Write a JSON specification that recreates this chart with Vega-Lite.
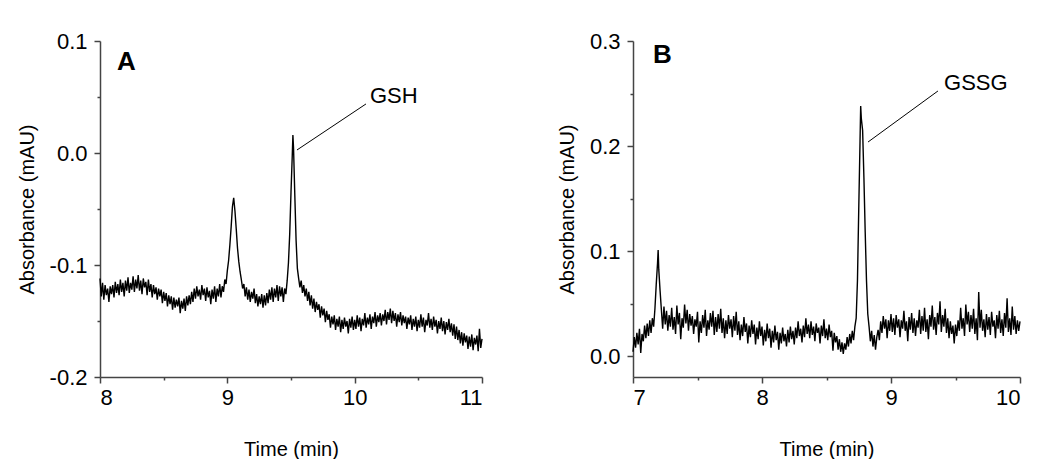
{
"$schema": "https://vega.github.io/schema/vega-lite/v6.json",
"background": "white",
"padding": {"left": 17, "top": 30, "right": 0, "bottom": 0},
"spacing": 72,
"config": {
  "view": {"stroke": null},
  "font": "Liberation Sans",
  "axis": {"grid": false, "domainColor": "#444", "domainWidth": 1.5, "tickColor": "#444", "tickWidth": 1.5,
           "labelFont": "Liberation Sans", "labelFontSize": 22, "labelColor": "black", "labelOverlap": false,
           "titleFont": "Liberation Sans", "titleFontSize": 20, "titleFontWeight": "normal", "titleColor": "black"}
},
"datasets": {
"A": [
{"t":8.00,"v":-0.112},{"t":8.01,"v":-0.128},{"t":8.02,"v":-0.116},{"t":8.03,"v":-0.131},{"t":8.04,"v":-0.118},{"t":8.05,"v":-0.127},{"t":8.06,"v":-0.121},{"t":8.07,"v":-0.133},{"t":8.08,"v":-0.119},{"t":8.09,"v":-0.126},
{"t":8.10,"v":-0.118},{"t":8.11,"v":-0.129},{"t":8.12,"v":-0.115},{"t":8.13,"v":-0.125},{"t":8.14,"v":-0.117},{"t":8.15,"v":-0.127},{"t":8.16,"v":-0.113},{"t":8.17,"v":-0.124},{"t":8.18,"v":-0.116},{"t":8.19,"v":-0.128},
{"t":8.20,"v":-0.114},{"t":8.21,"v":-0.123},{"t":8.22,"v":-0.111},{"t":8.23,"v":-0.125},{"t":8.24,"v":-0.116},{"t":8.25,"v":-0.122},{"t":8.26,"v":-0.110},{"t":8.27,"v":-0.124},{"t":8.28,"v":-0.113},{"t":8.29,"v":-0.121},
{"t":8.30,"v":-0.109},{"t":8.31,"v":-0.123},{"t":8.32,"v":-0.114},{"t":8.33,"v":-0.126},{"t":8.34,"v":-0.112},{"t":8.35,"v":-0.120},{"t":8.36,"v":-0.115},{"t":8.37,"v":-0.127},{"t":8.38,"v":-0.113},{"t":8.39,"v":-0.124},
{"t":8.40,"v":-0.117},{"t":8.41,"v":-0.129},{"t":8.42,"v":-0.118},{"t":8.43,"v":-0.126},{"t":8.44,"v":-0.120},{"t":8.45,"v":-0.131},{"t":8.46,"v":-0.121},{"t":8.47,"v":-0.128},{"t":8.48,"v":-0.122},{"t":8.49,"v":-0.134},
{"t":8.50,"v":-0.124},{"t":8.51,"v":-0.132},{"t":8.52,"v":-0.125},{"t":8.53,"v":-0.137},{"t":8.54,"v":-0.127},{"t":8.55,"v":-0.135},{"t":8.56,"v":-0.128},{"t":8.57,"v":-0.140},{"t":8.58,"v":-0.129},{"t":8.59,"v":-0.138},
{"t":8.60,"v":-0.131},{"t":8.61,"v":-0.137},{"t":8.62,"v":-0.129},{"t":8.63,"v":-0.143},{"t":8.64,"v":-0.132},{"t":8.65,"v":-0.139},{"t":8.66,"v":-0.130},{"t":8.67,"v":-0.141},{"t":8.68,"v":-0.128},{"t":8.69,"v":-0.136},
{"t":8.70,"v":-0.127},{"t":8.71,"v":-0.135},{"t":8.72,"v":-0.124},{"t":8.73,"v":-0.133},{"t":8.74,"v":-0.121},{"t":8.75,"v":-0.130},{"t":8.76,"v":-0.119},{"t":8.77,"v":-0.128},{"t":8.78,"v":-0.122},{"t":8.79,"v":-0.131},
{"t":8.80,"v":-0.118},{"t":8.81,"v":-0.127},{"t":8.82,"v":-0.121},{"t":8.83,"v":-0.132},{"t":8.84,"v":-0.120},{"t":8.85,"v":-0.129},{"t":8.86,"v":-0.123},{"t":8.87,"v":-0.135},{"t":8.88,"v":-0.122},{"t":8.89,"v":-0.130},
{"t":8.90,"v":-0.119},{"t":8.91,"v":-0.133},{"t":8.92,"v":-0.121},{"t":8.93,"v":-0.128},{"t":8.94,"v":-0.117},{"t":8.95,"v":-0.129},{"t":8.96,"v":-0.119},{"t":8.97,"v":-0.124},{"t":8.98,"v":-0.113},{"t":8.99,"v":-0.117},
{"t":9.00,"v":-0.105},{"t":9.01,"v":-0.096},{"t":9.02,"v":-0.082},{"t":9.03,"v":-0.066},{"t":9.04,"v":-0.048},{"t":9.05,"v":-0.040},{"t":9.06,"v":-0.052},{"t":9.07,"v":-0.068},{"t":9.08,"v":-0.085},{"t":9.09,"v":-0.097},
{"t":9.10,"v":-0.106},{"t":9.11,"v":-0.113},{"t":9.12,"v":-0.121},{"t":9.13,"v":-0.117},{"t":9.14,"v":-0.128},{"t":9.15,"v":-0.120},{"t":9.16,"v":-0.131},{"t":9.17,"v":-0.122},{"t":9.18,"v":-0.133},{"t":9.19,"v":-0.124},
{"t":9.20,"v":-0.130},{"t":9.21,"v":-0.121},{"t":9.22,"v":-0.134},{"t":9.23,"v":-0.126},{"t":9.24,"v":-0.137},{"t":9.25,"v":-0.128},{"t":9.26,"v":-0.135},{"t":9.27,"v":-0.126},{"t":9.28,"v":-0.138},{"t":9.29,"v":-0.127},
{"t":9.30,"v":-0.136},{"t":9.31,"v":-0.125},{"t":9.32,"v":-0.134},{"t":9.33,"v":-0.122},{"t":9.34,"v":-0.131},{"t":9.35,"v":-0.120},{"t":9.36,"v":-0.133},{"t":9.37,"v":-0.121},{"t":9.38,"v":-0.129},{"t":9.39,"v":-0.118},
{"t":9.40,"v":-0.132},{"t":9.41,"v":-0.119},{"t":9.42,"v":-0.128},{"t":9.43,"v":-0.120},{"t":9.44,"v":-0.133},{"t":9.45,"v":-0.121},{"t":9.46,"v":-0.126},{"t":9.47,"v":-0.114},{"t":9.48,"v":-0.098},{"t":9.49,"v":-0.072},
{"t":9.50,"v":-0.035},{"t":9.51,"v":-0.002},{"t":9.515,"v":0.016},{"t":9.52,"v":0.004},{"t":9.53,"v":-0.038},{"t":9.54,"v":-0.078},{"t":9.55,"v":-0.103},{"t":9.56,"v":-0.112},{"t":9.57,"v":-0.120},{"t":9.58,"v":-0.114},{"t":9.59,"v":-0.125},
{"t":9.60,"v":-0.118},{"t":9.61,"v":-0.128},{"t":9.62,"v":-0.121},{"t":9.63,"v":-0.132},{"t":9.64,"v":-0.124},{"t":9.65,"v":-0.136},{"t":9.66,"v":-0.127},{"t":9.67,"v":-0.139},{"t":9.68,"v":-0.130},{"t":9.69,"v":-0.142},
{"t":9.70,"v":-0.133},{"t":9.71,"v":-0.140},{"t":9.72,"v":-0.135},{"t":9.73,"v":-0.147},{"t":9.74,"v":-0.137},{"t":9.75,"v":-0.145},{"t":9.76,"v":-0.139},{"t":9.77,"v":-0.151},{"t":9.78,"v":-0.141},{"t":9.79,"v":-0.149},
{"t":9.80,"v":-0.144},{"t":9.81,"v":-0.156},{"t":9.82,"v":-0.146},{"t":9.83,"v":-0.153},{"t":9.84,"v":-0.145},{"t":9.85,"v":-0.158},{"t":9.86,"v":-0.148},{"t":9.87,"v":-0.155},{"t":9.88,"v":-0.146},{"t":9.89,"v":-0.160},
{"t":9.90,"v":-0.149},{"t":9.91,"v":-0.157},{"t":9.92,"v":-0.147},{"t":9.93,"v":-0.155},{"t":9.94,"v":-0.150},{"t":9.95,"v":-0.161},{"t":9.96,"v":-0.148},{"t":9.97,"v":-0.156},{"t":9.98,"v":-0.146},{"t":9.99,"v":-0.158},
{"t":10.00,"v":-0.149},{"t":10.01,"v":-0.157},{"t":10.02,"v":-0.145},{"t":10.03,"v":-0.155},{"t":10.04,"v":-0.147},{"t":10.05,"v":-0.159},{"t":10.06,"v":-0.148},{"t":10.07,"v":-0.154},{"t":10.08,"v":-0.143},{"t":10.09,"v":-0.156},
{"t":10.10,"v":-0.147},{"t":10.11,"v":-0.153},{"t":10.12,"v":-0.144},{"t":10.13,"v":-0.157},{"t":10.14,"v":-0.146},{"t":10.15,"v":-0.152},{"t":10.16,"v":-0.142},{"t":10.17,"v":-0.155},{"t":10.18,"v":-0.145},{"t":10.19,"v":-0.151},
{"t":10.20,"v":-0.143},{"t":10.21,"v":-0.154},{"t":10.22,"v":-0.144},{"t":10.23,"v":-0.150},{"t":10.24,"v":-0.140},{"t":10.25,"v":-0.153},{"t":10.26,"v":-0.142},{"t":10.27,"v":-0.149},{"t":10.28,"v":-0.139},{"t":10.29,"v":-0.152},
{"t":10.30,"v":-0.141},{"t":10.31,"v":-0.150},{"t":10.32,"v":-0.143},{"t":10.33,"v":-0.155},{"t":10.34,"v":-0.144},{"t":10.35,"v":-0.151},{"t":10.36,"v":-0.142},{"t":10.37,"v":-0.154},{"t":10.38,"v":-0.145},{"t":10.39,"v":-0.152},
{"t":10.40,"v":-0.146},{"t":10.41,"v":-0.157},{"t":10.42,"v":-0.147},{"t":10.43,"v":-0.153},{"t":10.44,"v":-0.145},{"t":10.45,"v":-0.158},{"t":10.46,"v":-0.148},{"t":10.47,"v":-0.155},{"t":10.48,"v":-0.146},{"t":10.49,"v":-0.159},
{"t":10.50,"v":-0.149},{"t":10.51,"v":-0.156},{"t":10.52,"v":-0.144},{"t":10.53,"v":-0.155},{"t":10.54,"v":-0.147},{"t":10.55,"v":-0.160},{"t":10.56,"v":-0.149},{"t":10.57,"v":-0.154},{"t":10.58,"v":-0.143},{"t":10.59,"v":-0.156},
{"t":10.60,"v":-0.148},{"t":10.61,"v":-0.158},{"t":10.62,"v":-0.146},{"t":10.63,"v":-0.155},{"t":10.64,"v":-0.149},{"t":10.65,"v":-0.161},{"t":10.66,"v":-0.150},{"t":10.67,"v":-0.157},{"t":10.68,"v":-0.147},{"t":10.69,"v":-0.159},
{"t":10.70,"v":-0.150},{"t":10.71,"v":-0.162},{"t":10.72,"v":-0.151},{"t":10.73,"v":-0.158},{"t":10.74,"v":-0.148},{"t":10.75,"v":-0.160},{"t":10.76,"v":-0.152},{"t":10.77,"v":-0.163},{"t":10.78,"v":-0.153},{"t":10.79,"v":-0.166},
{"t":10.80,"v":-0.155},{"t":10.81,"v":-0.167},{"t":10.82,"v":-0.158},{"t":10.83,"v":-0.170},{"t":10.84,"v":-0.160},{"t":10.85,"v":-0.172},{"t":10.86,"v":-0.161},{"t":10.87,"v":-0.169},{"t":10.88,"v":-0.163},{"t":10.89,"v":-0.175},
{"t":10.90,"v":-0.164},{"t":10.91,"v":-0.173},{"t":10.92,"v":-0.162},{"t":10.93,"v":-0.176},{"t":10.94,"v":-0.165},{"t":10.95,"v":-0.171},{"t":10.96,"v":-0.163},{"t":10.97,"v":-0.177},{"t":10.98,"v":-0.157},{"t":10.99,"v":-0.174},{"t":11.00,"v":-0.166}
],
"B": [
{"t":7.00,"v":0.004},{"t":7.01,"v":0.018},{"t":7.02,"v":0.008},{"t":7.03,"v":0.022},{"t":7.04,"v":0.011},{"t":7.05,"v":0.026},{"t":7.06,"v":0.003},{"t":7.07,"v":0.021},{"t":7.08,"v":0.014},{"t":7.09,"v":0.029},
{"t":7.10,"v":0.017},{"t":7.11,"v":0.031},{"t":7.12,"v":0.019},{"t":7.13,"v":0.034},{"t":7.14,"v":0.022},{"t":7.15,"v":0.036},{"t":7.16,"v":0.028},{"t":7.17,"v":0.045},{"t":7.18,"v":0.068},{"t":7.19,"v":0.088},{"t":7.195,"v":0.101},
{"t":7.20,"v":0.082},{"t":7.21,"v":0.062},{"t":7.22,"v":0.044},{"t":7.23,"v":0.026},{"t":7.24,"v":0.047},{"t":7.25,"v":0.030},{"t":7.26,"v":0.043},{"t":7.27,"v":0.024},{"t":7.28,"v":0.039},{"t":7.29,"v":0.028},
{"t":7.30,"v":0.046},{"t":7.31,"v":0.025},{"t":7.32,"v":0.037},{"t":7.33,"v":0.021},{"t":7.34,"v":0.048},{"t":7.35,"v":0.030},{"t":7.36,"v":0.041},{"t":7.37,"v":0.016},{"t":7.38,"v":0.036},{"t":7.39,"v":0.027},
{"t":7.40,"v":0.049},{"t":7.41,"v":0.031},{"t":7.42,"v":0.044},{"t":7.43,"v":0.024},{"t":7.44,"v":0.040},{"t":7.45,"v":0.029},{"t":7.46,"v":0.038},{"t":7.47,"v":0.021},{"t":7.48,"v":0.035},{"t":7.49,"v":0.028},
{"t":7.50,"v":0.042},{"t":7.51,"v":0.013},{"t":7.52,"v":0.033},{"t":7.53,"v":0.022},{"t":7.54,"v":0.039},{"t":7.55,"v":0.027},{"t":7.56,"v":0.044},{"t":7.57,"v":0.019},{"t":7.58,"v":0.034},{"t":7.59,"v":0.025},
{"t":7.60,"v":0.041},{"t":7.61,"v":0.028},{"t":7.62,"v":0.043},{"t":7.63,"v":0.020},{"t":7.64,"v":0.037},{"t":7.65,"v":0.023},{"t":7.66,"v":0.040},{"t":7.67,"v":0.026},{"t":7.68,"v":0.045},{"t":7.69,"v":0.022},
{"t":7.70,"v":0.036},{"t":7.71,"v":0.017},{"t":7.72,"v":0.034},{"t":7.73,"v":0.021},{"t":7.74,"v":0.039},{"t":7.75,"v":0.026},{"t":7.76,"v":0.035},{"t":7.77,"v":0.018},{"t":7.78,"v":0.038},{"t":7.79,"v":0.024},
{"t":7.80,"v":0.042},{"t":7.81,"v":0.020},{"t":7.82,"v":0.033},{"t":7.83,"v":0.015},{"t":7.84,"v":0.030},{"t":7.85,"v":0.019},{"t":7.86,"v":0.037},{"t":7.87,"v":0.023},{"t":7.88,"v":0.031},{"t":7.89,"v":0.012},
{"t":7.90,"v":0.029},{"t":7.91,"v":0.018},{"t":7.92,"v":0.034},{"t":7.93,"v":0.021},{"t":7.94,"v":0.030},{"t":7.95,"v":0.011},{"t":7.96,"v":0.027},{"t":7.97,"v":0.016},{"t":7.98,"v":0.033},{"t":7.99,"v":0.019},
{"t":8.00,"v":0.028},{"t":8.01,"v":0.010},{"t":8.02,"v":0.025},{"t":8.03,"v":0.014},{"t":8.04,"v":0.031},{"t":8.05,"v":0.017},{"t":8.06,"v":0.026},{"t":8.07,"v":0.008},{"t":8.08,"v":0.024},{"t":8.09,"v":0.013},
{"t":8.10,"v":0.029},{"t":8.11,"v":0.015},{"t":8.12,"v":0.023},{"t":8.13,"v":0.006},{"t":8.14,"v":0.022},{"t":8.15,"v":0.012},{"t":8.16,"v":0.027},{"t":8.17,"v":0.014},{"t":8.18,"v":0.021},{"t":8.19,"v":0.009},
{"t":8.20,"v":0.025},{"t":8.21,"v":0.013},{"t":8.22,"v":0.028},{"t":8.23,"v":0.016},{"t":8.24,"v":0.024},{"t":8.25,"v":0.011},{"t":8.26,"v":0.027},{"t":8.27,"v":0.017},{"t":8.28,"v":0.033},{"t":8.29,"v":0.019},
{"t":8.30,"v":0.026},{"t":8.31,"v":0.013},{"t":8.32,"v":0.029},{"t":8.33,"v":0.018},{"t":8.34,"v":0.036},{"t":8.35,"v":0.021},{"t":8.36,"v":0.030},{"t":8.37,"v":0.017},{"t":8.38,"v":0.033},{"t":8.39,"v":0.020},
{"t":8.40,"v":0.028},{"t":8.41,"v":0.014},{"t":8.42,"v":0.031},{"t":8.43,"v":0.022},{"t":8.44,"v":0.027},{"t":8.45,"v":0.012},{"t":8.46,"v":0.029},{"t":8.47,"v":0.019},{"t":8.48,"v":0.035},{"t":8.49,"v":0.017},
{"t":8.50,"v":0.026},{"t":8.51,"v":0.015},{"t":8.52,"v":0.030},{"t":8.53,"v":0.018},{"t":8.54,"v":0.024},{"t":8.55,"v":0.005},{"t":8.56,"v":0.022},{"t":8.57,"v":0.013},{"t":8.58,"v":0.019},{"t":8.59,"v":0.006},
{"t":8.60,"v":0.016},{"t":8.61,"v":0.004},{"t":8.62,"v":0.013},{"t":8.63,"v":0.002},{"t":8.64,"v":0.012},{"t":8.65,"v":0.006},{"t":8.66,"v":0.018},{"t":8.67,"v":0.009},{"t":8.68,"v":0.021},{"t":8.69,"v":0.012},
{"t":8.70,"v":0.024},{"t":8.71,"v":0.015},{"t":8.72,"v":0.028},{"t":8.73,"v":0.036},{"t":8.74,"v":0.072},{"t":8.75,"v":0.140},{"t":8.76,"v":0.205},{"t":8.765,"v":0.238},{"t":8.77,"v":0.226},{"t":8.78,"v":0.215},{"t":8.79,"v":0.170},
{"t":8.80,"v":0.118},{"t":8.81,"v":0.072},{"t":8.82,"v":0.040},{"t":8.83,"v":0.028},{"t":8.84,"v":0.014},{"t":8.85,"v":0.024},{"t":8.86,"v":0.009},{"t":8.87,"v":0.020},{"t":8.88,"v":0.006},{"t":8.89,"v":0.018},
{"t":8.90,"v":0.025},{"t":8.91,"v":0.015},{"t":8.92,"v":0.033},{"t":8.93,"v":0.022},{"t":8.94,"v":0.038},{"t":8.95,"v":0.026},{"t":8.96,"v":0.035},{"t":8.97,"v":0.017},{"t":8.98,"v":0.034},{"t":8.99,"v":0.024},
{"t":9.00,"v":0.040},{"t":9.01,"v":0.023},{"t":9.02,"v":0.036},{"t":9.03,"v":0.020},{"t":9.04,"v":0.039},{"t":9.05,"v":0.027},{"t":9.06,"v":0.035},{"t":9.07,"v":0.018},{"t":9.08,"v":0.034},{"t":9.09,"v":0.026},
{"t":9.10,"v":0.043},{"t":9.11,"v":0.024},{"t":9.12,"v":0.033},{"t":9.13,"v":0.014},{"t":9.14,"v":0.037},{"t":9.15,"v":0.025},{"t":9.16,"v":0.041},{"t":9.17,"v":0.022},{"t":9.18,"v":0.036},{"t":9.19,"v":0.019},
{"t":9.20,"v":0.034},{"t":9.21,"v":0.027},{"t":9.22,"v":0.044},{"t":9.23,"v":0.021},{"t":9.24,"v":0.038},{"t":9.25,"v":0.024},{"t":9.26,"v":0.046},{"t":9.27,"v":0.023},{"t":9.28,"v":0.035},{"t":9.29,"v":0.016},
{"t":9.30,"v":0.039},{"t":9.31,"v":0.028},{"t":9.32,"v":0.048},{"t":9.33,"v":0.025},{"t":9.34,"v":0.037},{"t":9.35,"v":0.020},{"t":9.36,"v":0.041},{"t":9.37,"v":0.030},{"t":9.38,"v":0.052},{"t":9.39,"v":0.023},
{"t":9.40,"v":0.039},{"t":9.41,"v":0.028},{"t":9.42,"v":0.045},{"t":9.43,"v":0.022},{"t":9.44,"v":0.036},{"t":9.45,"v":0.017},{"t":9.46,"v":0.033},{"t":9.47,"v":0.021},{"t":9.48,"v":0.029},{"t":9.49,"v":0.012},
{"t":9.50,"v":0.030},{"t":9.51,"v":0.019},{"t":9.52,"v":0.034},{"t":9.53,"v":0.024},{"t":9.54,"v":0.046},{"t":9.55,"v":0.026},{"t":9.56,"v":0.036},{"t":9.57,"v":0.019},{"t":9.58,"v":0.049},{"t":9.59,"v":0.030},
{"t":9.60,"v":0.042},{"t":9.61,"v":0.023},{"t":9.62,"v":0.039},{"t":9.63,"v":0.026},{"t":9.64,"v":0.045},{"t":9.65,"v":0.021},{"t":9.66,"v":0.036},{"t":9.67,"v":0.015},{"t":9.68,"v":0.061},{"t":9.69,"v":0.027},
{"t":9.70,"v":0.044},{"t":9.71,"v":0.024},{"t":9.72,"v":0.035},{"t":9.73,"v":0.018},{"t":9.74,"v":0.040},{"t":9.75,"v":0.025},{"t":9.76,"v":0.037},{"t":9.77,"v":0.020},{"t":9.78,"v":0.042},{"t":9.79,"v":0.028},
{"t":9.80,"v":0.034},{"t":9.81,"v":0.017},{"t":9.82,"v":0.039},{"t":9.83,"v":0.026},{"t":9.84,"v":0.043},{"t":9.85,"v":0.022},{"t":9.86,"v":0.035},{"t":9.87,"v":0.019},{"t":9.88,"v":0.041},{"t":9.89,"v":0.027},
{"t":9.90,"v":0.055},{"t":9.91,"v":0.023},{"t":9.92,"v":0.036},{"t":9.93,"v":0.020},{"t":9.94,"v":0.047},{"t":9.95,"v":0.025},{"t":9.96,"v":0.038},{"t":9.97,"v":0.021},{"t":9.98,"v":0.034},{"t":9.99,"v":0.024},{"t":10.00,"v":0.033}
],
"leadA": [{"t":9.547,"v":0.0027,"t2":10.089,"v2":0.0438}],
"leadB": [{"t":8.822,"v":0.2038,"t2":9.364,"v2":0.2524}],
"labA": [{"t":10.12,"v":0.0446,"text":"GSH"}],
"labB": [{"t":9.411,"v":0.2533,"text":"GSSG"}],
"panA": [{"t":8.134,"v":0.0741,"text":"A"}],
"panB": [{"t":7.155,"v":0.279,"text":"B"}]
},
"hconcat": [
{
  "width": 382, "height": 336,
  "layer": [
    {"data": {"name": "A"}, "mark": {"type": "line", "color": "black", "strokeWidth": 1.4},
     "encoding": {
       "x": {"field": "t", "type": "quantitative", "scale": {"domain": [8, 11], "nice": false, "zero": false},
             "axis": {"title": "Time (min)", "values": [8, 8.5, 9, 9.5, 10, 10.5, 11],
                      "labelExpr": "datum.value % 1 != 0 ? '' : format(datum.value, 'd')",
                      "tickSize": {"condition": {"test": "datum.value % 1 != 0", "value": 3}, "value": 6},
                      "labelPadding": 4, "titlePadding": 31}},
       "y": {"field": "v", "type": "quantitative", "scale": {"domain": [-0.2, 0.1], "nice": false, "zero": false},
             "axis": {"title": "Absorbance (mAU)", "values": [-0.2, -0.15, -0.1, -0.05, 0, 0.05, 0.1],
                      "labelExpr": "abs(datum.value*10 - round(datum.value*10)) > 0.01 ? '' : replace(format(datum.value, '.1f'), '−', '-')",
                      "tickSize": {"condition": {"test": "abs(datum.value*10 - round(datum.value*10)) > 0.01", "value": 3}, "value": 6},
                      "labelPadding": 7, "titlePadding": 12}}
     }},
    {"data": {"name": "leadA"}, "mark": {"type": "rule", "color": "black", "strokeWidth": 1},
     "encoding": {"x": {"field": "t", "type": "quantitative"}, "y": {"field": "v", "type": "quantitative"},
                  "x2": {"field": "t2"}, "y2": {"field": "v2"}}},
    {"data": {"name": "labA"}, "mark": {"type": "text", "align": "left", "baseline": "alphabetic", "fontSize": 22, "font": "Liberation Sans", "color": "black"},
     "encoding": {"x": {"field": "t", "type": "quantitative"}, "y": {"field": "v", "type": "quantitative"}, "text": {"field": "text"}}},
    {"data": {"name": "panA"}, "mark": {"type": "text", "align": "left", "baseline": "alphabetic", "fontSize": 26, "fontWeight": "bold", "font": "Liberation Sans", "color": "black"},
     "encoding": {"x": {"field": "t", "type": "quantitative"}, "y": {"field": "v", "type": "quantitative"}, "text": {"field": "text"}}}
  ]
},
{
  "width": 387, "height": 336,
  "layer": [
    {"data": {"name": "B"}, "mark": {"type": "line", "color": "black", "strokeWidth": 1.4},
     "encoding": {
       "x": {"field": "t", "type": "quantitative", "scale": {"domain": [7, 10], "nice": false, "zero": false},
             "axis": {"title": "Time (min)", "values": [7, 7.5, 8, 8.5, 9, 9.5, 10],
                      "labelExpr": "datum.value % 1 != 0 ? '' : format(datum.value, 'd')",
                      "tickSize": {"condition": {"test": "datum.value % 1 != 0", "value": 3}, "value": 6},
                      "labelPadding": 4, "titlePadding": 31}},
       "y": {"field": "v", "type": "quantitative", "scale": {"domain": [-0.02, 0.3], "nice": false, "zero": false},
             "axis": {"title": "Absorbance (mAU)", "values": [0, 0.05, 0.1, 0.15, 0.2, 0.25, 0.3],
                      "labelExpr": "abs(datum.value*10 - round(datum.value*10)) > 0.01 ? '' : replace(format(datum.value, '.1f'), '−', '-')",
                      "tickSize": {"condition": {"test": "abs(datum.value*10 - round(datum.value*10)) > 0.01", "value": 3}, "value": 6},
                      "labelPadding": 7, "titlePadding": 12}}
     }},
    {"data": {"name": "leadB"}, "mark": {"type": "rule", "color": "black", "strokeWidth": 1},
     "encoding": {"x": {"field": "t", "type": "quantitative"}, "y": {"field": "v", "type": "quantitative"},
                  "x2": {"field": "t2"}, "y2": {"field": "v2"}}},
    {"data": {"name": "labB"}, "mark": {"type": "text", "align": "left", "baseline": "alphabetic", "fontSize": 22, "font": "Liberation Sans", "color": "black"},
     "encoding": {"x": {"field": "t", "type": "quantitative"}, "y": {"field": "v", "type": "quantitative"}, "text": {"field": "text"}}},
    {"data": {"name": "panB"}, "mark": {"type": "text", "align": "left", "baseline": "alphabetic", "fontSize": 26, "fontWeight": "bold", "font": "Liberation Sans", "color": "black"},
     "encoding": {"x": {"field": "t", "type": "quantitative"}, "y": {"field": "v", "type": "quantitative"}, "text": {"field": "text"}}}
  ]
}
]
}
